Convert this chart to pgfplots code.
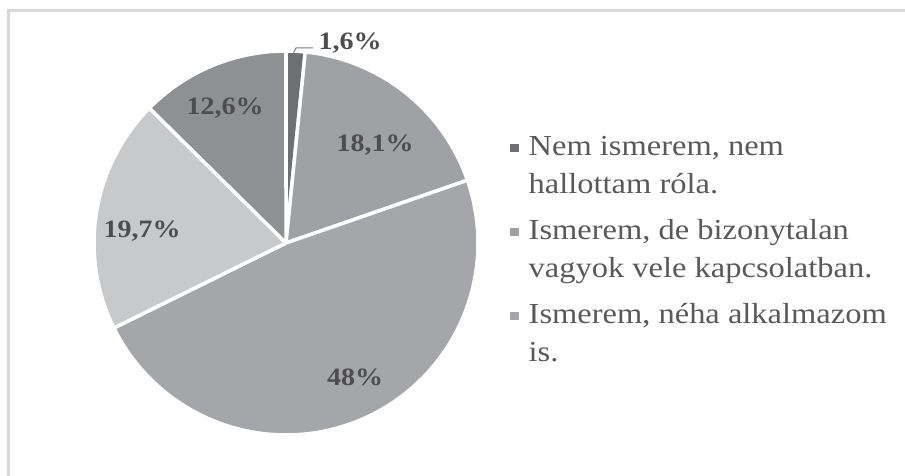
\documentclass[border=0pt]{standalone}
\usepackage{pgfplots}
\pgfplotsset{compat=1.18}
\usepackage{fontspec}
\setmainfont{Liberation Serif}
\usepackage{graphicx}
\definecolor{cA}{HTML}{6E6F73}
\definecolor{cB}{HTML}{A0A1A4}
\definecolor{cC}{HTML}{A5A6A9}
\definecolor{cD}{HTML}{C8C9CB}
\definecolor{cE}{HTML}{8F9094}
\definecolor{lbl}{HTML}{4D4D4F}
\definecolor{leg}{HTML}{595959}
\definecolor{frm}{HTML}{D9D9D9}
% slice: start percent, end percent, colour (clockwise from 12 o'clock)
\newcommand{\slice}[3]{%
  \addplot[fill=#3, draw=white, line width=3.5pt, line join=round,
    domain=#1:#2, samples=80, variable=\t]
    ({286+192*cos(90-3.6*\t)},{233+192*sin(90-3.6*\t)}) -- (286,233) -- cycle;}
\newcommand{\lab}[1]{\scalebox{1.12}[1]{\fontsize{25}{30}\selectfont\bfseries #1}}
\newcommand{\legtxt}[2]{\hspace*{8pt}\scalebox{1.12}[1]{\begin{tabular}[b]{@{}l@{}}#1\\#2\end{tabular}}}
\begin{document}
\begin{tikzpicture}
\begin{axis}[name=ax, hide axis, scale only axis, width=905pt, height=476pt,
  xmin=0, xmax=905, ymin=0, ymax=476, clip=false,
  legend style={at={(axis cs:510,349)}, anchor=north west, draw=none, fill=none,
    inner sep=0pt, row sep=14pt, font=\fontsize{29}{38}\selectfont, text=leg,
    cells={anchor=west}, nodes={inner sep=2pt}},
  legend image code/.code={\path[#1,draw=none] (0pt,10pt) rectangle (8.5pt,18.5pt);}]
% frame
\addplot[frm, line width=3pt, forget plot] coordinates {(8.5,0) (8.5,465.5) (905,465.5)};
% values: 1.6, 18.1, 48, 19.7, 12.6 (percent)
\slice{0}{1.6}{cA}
\addlegendentry{\legtxt{Nem ismerem, nem}{hallottam róla.}}
\slice{1.6}{19.7}{cB}
\addlegendentry{\legtxt{Ismerem, de bizonytalan}{vagyok vele kapcsolatban.}}
\slice{19.7}{67.7}{cC}
\addlegendentry{\legtxt{Ismerem, néha alkalmazom}{is.}}
\slice{67.7}{87.4}{cD}
\slice{87.4}{100}{cE}
% leader line
\addplot[color=gray, line width=1pt, forget plot] coordinates {(293,422) (296,428) (313,428)};
\node[text=lbl, anchor=west] at (axis cs:315,433) {\lab{1,6\%}};
\node[text=lbl] at (axis cs:375,331) {\lab{18,1\%}};
\node[text=lbl] at (axis cs:225,368) {\lab{12,6\%}};
\node[text=lbl] at (axis cs:355,99) {\lab{48\%}};
\node[text=lbl] at (axis cs:142,245) {\lab{19,7\%}};
\end{axis}
\pgfresetboundingbox
\path[use as bounding box] (ax.south west) rectangle (ax.north east);
\end{tikzpicture}
\end{document}
